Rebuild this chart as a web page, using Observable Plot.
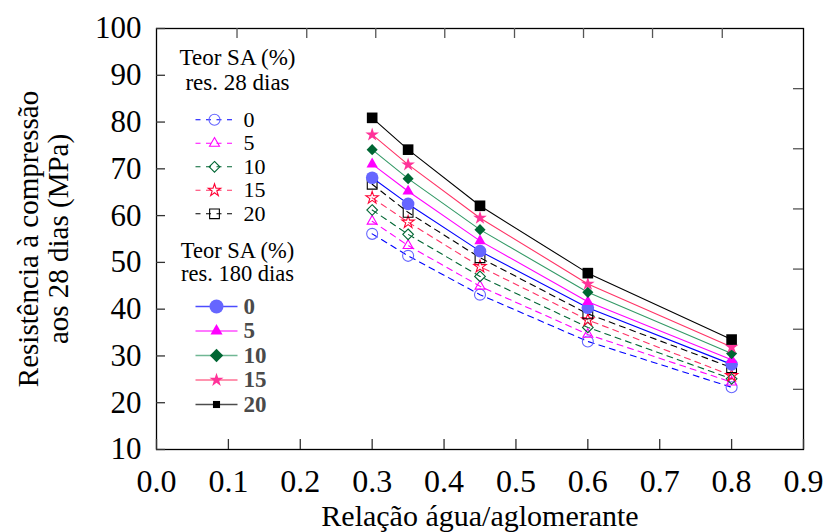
<!DOCTYPE html>
<html>
<head>
<meta charset="utf-8">
<script src="https://cdn.jsdelivr.net/npm/d3@7"></script>
<script src="https://cdn.jsdelivr.net/npm/@observablehq/plot@0.6"></script>
<style>
  body { margin: 0; background: #fff; }
  #chart svg { display: block; font-family: "Liberation Serif", "Times New Roman", serif; }
</style>
</head>
<body>
<div id="chart"></div>
<script>
// Water/binder ratios tested
const ratios = [0.3, 0.35, 0.45, 0.6, 0.8];
// SA content (%) — legend labels
const contents = ["0", "5", "10", "15", "20"];

// Compressive strength at 28 days (MPa)
const res28_0  = [56.1, 51.4, 43.1, 33.1, 23.3];
const res28_5  = [58.8, 53.6, 44.9, 34.6, 24.4];
const res28_10 = [61.2, 56.0, 47.0, 36.1, 25.1];
const res28_15 = [63.8, 58.6, 49.1, 37.7, 25.8];
const res28_20 = [66.7, 60.7, 51.0, 39.0, 27.5];

// Compressive strength at 180 days (MPa)
const res180_0  = [68.1, 62.5, 52.4, 40.3, 28.2];
const res180_5  = [71.0, 65.2, 54.6, 41.6, 29.2];
const res180_10 = [74.1, 67.9, 57.0, 43.6, 30.5];
const res180_15 = [77.3, 70.9, 59.5, 45.4, 31.9];
const res180_20 = [80.9, 74.1, 62.1, 47.7, 33.5];

// Axis ticks
const xTicks = [0.0, 0.1, 0.2, 0.3, 0.4, 0.5, 0.6, 0.7, 0.8, 0.9];
const yTicks = [10, 20, 30, 40, 50, 60, 70, 80, 90, 100];
const topTicks = [0.112, 0.209, 0.305, 0.401, 0.498, 0.594, 0.690, 0.787];
const rightTicks = [22.86, 35.71, 48.57, 61.43, 74.29, 87.14];

const series28 = [res28_0, res28_5, res28_10, res28_15, res28_20];
const series180 = [res180_0, res180_5, res180_10, res180_15, res180_20];

// Per-content styling
const symbols = ["circle", "triangle", "diamond2", "star", "square"];
const line28 = ["#0000ff", "#ff00ff", "#006633", "#ff3366", "#000000"];
const mark28 = ["#6666ff", "#ff00ff", "#006633", "#ff0033", "#000000"];
const line180 = ["#0000ff", "#ff00ff", "#339966", "#ff3366", "#000000"];
const mark180 = ["#6666ff", "#ff00ff", "#006633", "#ff3399", "#000000"];
// Symbol radii (Plot sizes symbols by area)
const rOpen = [5.5, 3.7, 4.8, 3.9, 5.5];
const rFilled = [6.3, 4.2, 5.0, 4.3, 6.0];
const rLegend180 = [7.0, 4.5, 6.0, 4.4, 4.0];

const rowsOf = (vals, i) => ratios.map((r, j) => ({ratio: r, value: vals[j], content: contents[i]}));

// Horizontal segment used as a legend line sample
const hline = (half) => ({draw(ctx) { ctx.moveTo(-half, 0); ctx.lineTo(half, 0); }});

const FONT = "'Liberation Serif', 'Times New Roman', serif";
const innerW = 824 - 156 - 21;
const innerH = 532 - 28 - 83;

const marks = [];

// Frame and inward ticks on all four sides
marks.push(Plot.frame({stroke: "#000", strokeWidth: 1.3}));
marks.push(Plot.tickX(xTicks, {x: d => d, insetTop: innerH - 10, stroke: "#333", strokeWidth: 1.3}));
marks.push(Plot.tickX(topTicks, {x: d => d, insetBottom: innerH - 10, stroke: "#555", strokeWidth: 1.3}));
marks.push(Plot.tickY(yTicks, {y: d => d, insetRight: innerW - 9, stroke: "#333", strokeWidth: 1.3}));
marks.push(Plot.tickY(rightTicks, {y: d => d, insetLeft: innerW - 10, stroke: "#555", strokeWidth: 1.3}));

// Tick labels
marks.push(Plot.axisX({ticks: xTicks, tickFormat: d => d.toFixed(1), tickSize: 0, tickPadding: 20, fontSize: 32, fontFamily: FONT, label: null}));
marks.push(Plot.axisY({ticks: yTicks, tickSize: 0, tickPadding: 15, fontSize: 31, fontFamily: FONT, label: null}));

// Axis titles
marks.push(Plot.text(["Relação água/aglomerante"], {frameAnchor: "bottom", dy: 67, lineAnchor: "middle", textAnchor: "middle", fontSize: 30, fontFamily: FONT, fill: "#000"}));
marks.push(Plot.text(["Resistência à compressão"], {frameAnchor: "left", dx: -128, rotate: -90, lineAnchor: "middle", textAnchor: "middle", fontSize: 29, fontFamily: FONT, fill: "#000"}));
marks.push(Plot.text(["aos 28 dias (MPa)"], {frameAnchor: "left", dx: -98, rotate: -90, lineAnchor: "middle", textAnchor: "middle", fontSize: 29, fontFamily: FONT, fill: "#000"}));

// 28-day series: dashed lines, open symbols
series28.forEach((vals, i) => {
  marks.push(Plot.line(rowsOf(vals, i), {x: "ratio", y: "value", stroke: line28[i], strokeWidth: 1.1, strokeDasharray: "6,5"}));
});
series28.forEach((vals, i) => {
  marks.push(Plot.dot(rowsOf(vals, i), {x: "ratio", y: "value", symbol: symbols[i], r: rOpen[i], fill: "none", stroke: mark28[i], strokeWidth: 1.1}));
});

// 180-day series: solid lines, filled symbols
series180.forEach((vals, i) => {
  marks.push(Plot.line(rowsOf(vals, i), {x: "ratio", y: "value", stroke: line180[i], strokeWidth: 1.1}));
});
series180.forEach((vals, i) => {
  marks.push(Plot.dot(rowsOf(vals, i), {x: "ratio", y: "value", symbol: symbols[i], r: rFilled[i], fill: mark180[i], stroke: "none"}));
});

// Legend: 28 days
const legendText = {frameAnchor: "top-left", lineAnchor: "middle", fontFamily: FONT, fill: "#000"};
marks.push(Plot.text(["Teor SA (%)"], {...legendText, dx: 81, dy: 29, textAnchor: "middle", fontSize: 23}));
marks.push(Plot.text(["res. 28 dias"], {...legendText, dx: 81, dy: 54, textAnchor: "middle", fontSize: 23}));
contents.forEach((c, i) => {
  const dy = 91.3 + 23.5 * i;
  marks.push(Plot.dot([c], {frameAnchor: "top-left", dx: 57.5, dy, symbol: hline(18.5), fill: "none", stroke: line28[i], strokeWidth: 1.1, strokeDasharray: "5,5.5"}));
  marks.push(Plot.dot([c], {frameAnchor: "top-left", dx: 58, dy, symbol: symbols[i], r: rOpen[i], fill: "none", stroke: mark28[i], strokeWidth: 1.1}));
  marks.push(Plot.text([c], {...legendText, dx: 87, dy, text: d => d, textAnchor: "start", fontSize: 22}));
});

// Legend: 180 days
marks.push(Plot.text(["Teor SA (%)"], {...legendText, dx: 81, dy: 222, textAnchor: "middle", fontSize: 22.5}));
marks.push(Plot.text(["res. 180 dias"], {...legendText, dx: 81, dy: 245, textAnchor: "middle", fontSize: 22.5}));
contents.forEach((c, i) => {
  const dy = 278 + 24.5 * i;
  marks.push(Plot.dot([c], {frameAnchor: "top-left", dx: 60, dy, symbol: hline(21), fill: "none", stroke: line180[i], strokeWidth: 1.3, strokeOpacity: 0.7}));
  marks.push(Plot.dot([c], {frameAnchor: "top-left", dx: 60, dy, symbol: symbols[i], r: rLegend180[i], fill: mark180[i], stroke: "none"}));
  marks.push(Plot.text([c], {...legendText, dx: 87, dy, text: d => d, textAnchor: "start", fontSize: 23, fontWeight: "bold", fill: "#4a4a4a", ariaLabel: "legend180-label"}));
});

const chart = Plot.plot({
  width: 824,
  height: 532,
  marginLeft: 156,
  marginRight: 21,
  marginTop: 28,
  marginBottom: 83,
  x: {domain: [0, 0.9], axis: null},
  y: {domain: [10, 100], axis: null},
  style: {fontFamily: FONT, background: "#fff", color: "#000", overflow: "visible"},
  marks
});

// Soft gray labels in the 180-day legend
d3.select(chart).selectAll('g[aria-label="legend180-label"]').style("filter", "blur(0.6px)");

document.getElementById("chart").appendChild(chart);
</script>
</body>
</html>
